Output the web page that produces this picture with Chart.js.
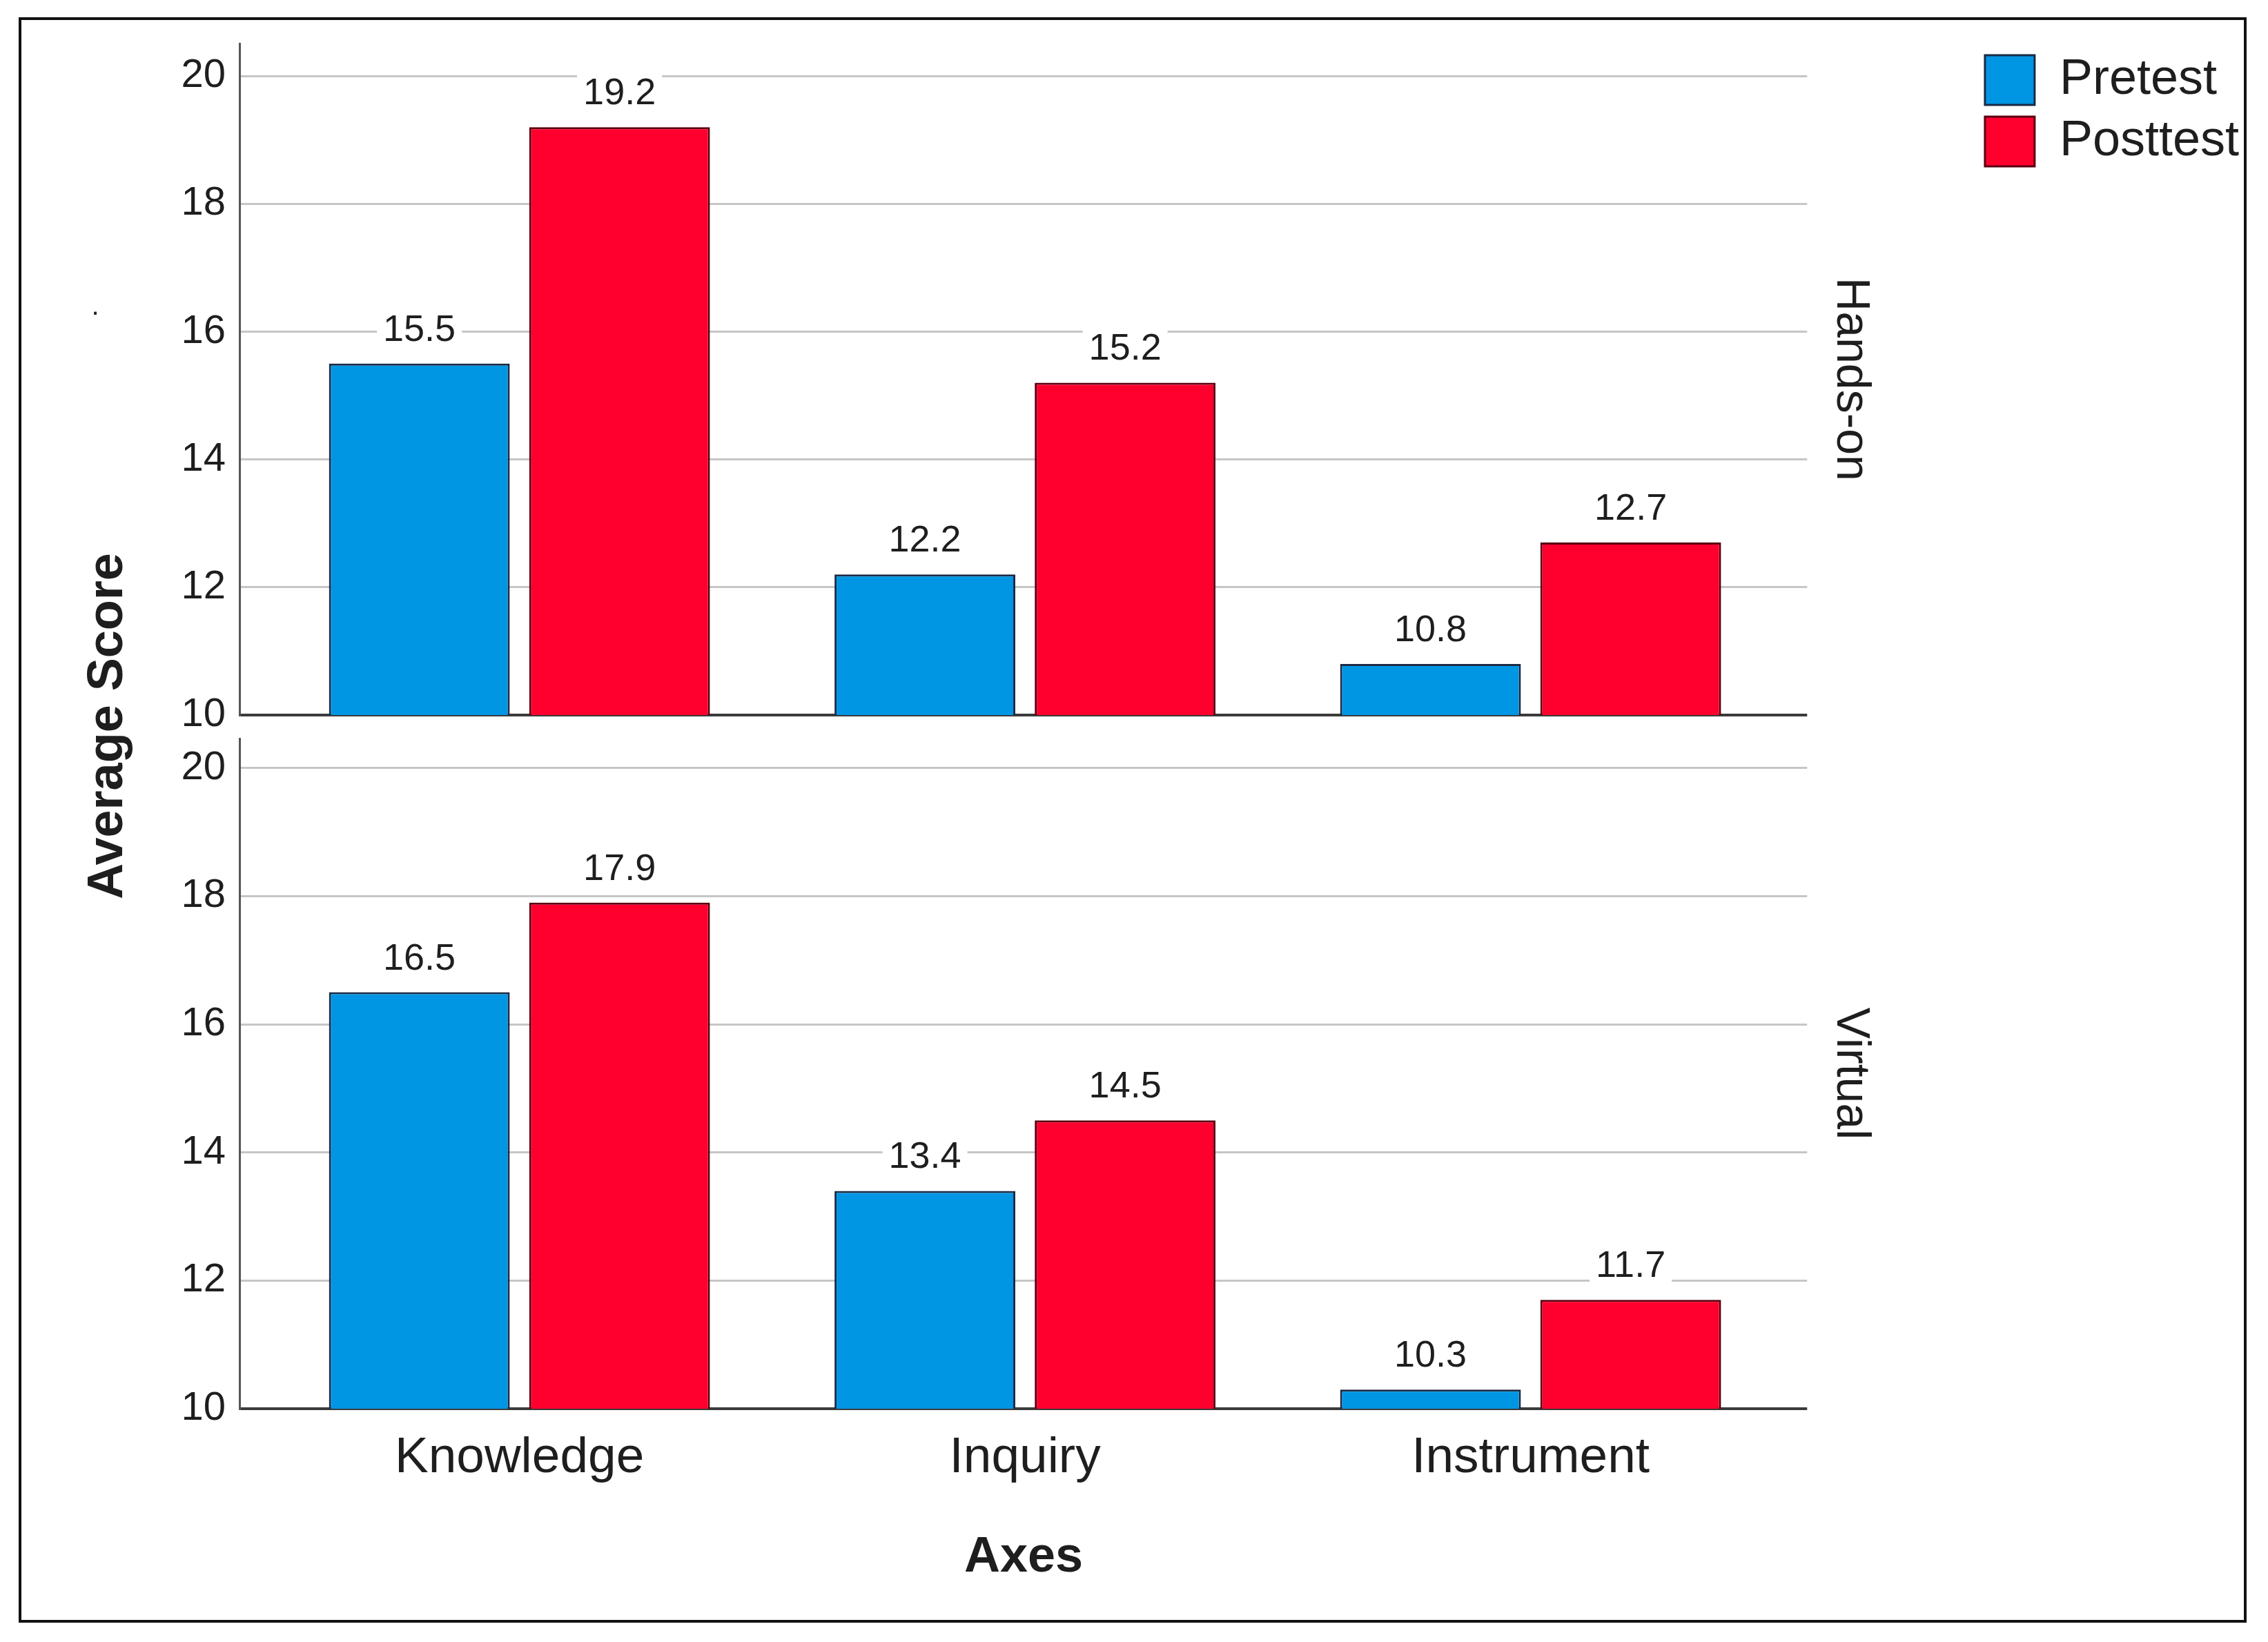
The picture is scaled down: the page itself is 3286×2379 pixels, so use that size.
<!DOCTYPE html>
<html>
<head>
<meta charset="utf-8">
<script src="https://cdn.jsdelivr.net/npm/chart.js@4/dist/chart.umd.min.js"></script>
<style>
  html, body { margin: 0; padding: 0; background: #ffffff; }
  #wrap { width: 3286px; height: 2379px; }
</style>
</head>
<body>
<div id="wrap"><canvas id="c" width="3286" height="2379"></canvas></div>
<script>
// ---- data ----
const categories = ['Knowledge', 'Inquiry', 'Instrument'];
const seriesNames = ['Pretest', 'Posttest'];
const panelNames = ['Hands-on', 'Virtual'];
const handsOnPretest = [15.5, 12.2, 10.8];
const handsOnPosttest = [19.2, 15.2, 12.7];
const virtualPretest = [16.5, 13.4, 10.3];
const virtualPosttest = [17.9, 14.5, 11.7];
const yTickValues = [10, 12, 14, 16, 18, 20];

// ---- styles ----
const FONT = '"Liberation Sans", Arial, Helvetica, sans-serif';
const BLUE = '#0096e4', BLUE_EDGE = '#1b2a44';
const RED = '#ff002e', RED_EDGE = '#5a0010';
const GRID = '#c6c6c6', BASE = '#3a3a3a', TEXT = '#1e1e1e';

const toPoints = (arr) => arr.map((v, i) => ({ x: i, y: v }));

function barSet(label, values, axis, stack, color, edge) {
  return {
    label, data: toPoints(values), yAxisID: axis, stack,
    backgroundColor: color, borderColor: edge, borderWidth: 3,
    borderSkipped: false,
    categoryPercentage: 0.792, barPercentage: 0.903
  };
}

const valueLabels = {
  id: 'valueLabels',
  afterDatasetsDraw(chart) {
    const ctx = chart.ctx;
    ctx.save();
    ctx.font = '54px ' + FONT;
    ctx.textAlign = 'center';
    ctx.textBaseline = 'middle';
    chart.data.datasets.forEach((ds, di) => {
      const meta = chart.getDatasetMeta(di);
      meta.data.forEach((bar, i) => {
        const txt = ds.data[i].y.toFixed(1);
        const w = ctx.measureText(txt).width + 18;
        const y = bar.y - 48;
        ctx.fillStyle = '#ffffff';
        ctx.fillRect(bar.x - w / 2, y - 30, w, 60);
        ctx.fillStyle = TEXT;
        ctx.fillText(txt, bar.x, y);
      });
    });
    ctx.restore();
  }
};

const frame = {
  id: 'frame',
  beforeDraw(chart) {
    const ctx = chart.ctx;
    ctx.save();
    ctx.fillStyle = '#ffffff';
    ctx.fillRect(0, 0, chart.width, chart.height);
    ctx.restore();
  },
  afterDraw(chart) {
    const ctx = chart.ctx;
    ctx.save();
    ctx.strokeStyle = '#111111';
    ctx.lineWidth = 4;
    ctx.strokeRect(29, 27, 3224, 2322);
    ctx.fillStyle = TEXT;
    ctx.font = '40px ' + FONT;
    ctx.textAlign = 'center';
    ctx.textBaseline = 'alphabetic';
    ctx.fillText('.', 138, 456);
    ctx.restore();
  }
};

const setYTicks = (axis) => { axis.ticks = yTickValues.map(v => ({ value: v })); };

const panelAxis = (min, max, weight) => ({
  type: 'linear', position: 'left', stack: 'panels', stackWeight: weight,
  min, max, afterBuildTicks: setYTicks,
  ticks: { color: TEXT, font: { family: FONT, size: 58 }, padding: 21 },
  grid: {
    drawTicks: false,
    color: (c) => (c.tick && c.tick.value === 10 ? BASE : GRID),
    lineWidth: (c) => (c.tick && c.tick.value === 10 ? 4 : 3)
  },
  border: { display: true, color: '#555555', width: 3 }
});

const hiddenAxis = (position, stack, weight, title) => ({
  type: 'linear', position, stack, stackWeight: weight,
  display: !!title,
  ticks: { display: false },
  grid: { display: false, drawTicks: false },
  border: { display: false },
  title: title ? {
    display: true, text: title, color: TEXT,
    font: { family: FONT, size: 68 },
    padding: { top: 137, bottom: 22 }
  } : { display: false }
});

new Chart(document.getElementById('c'), {
  type: 'bar',
  data: {
    datasets: [
      barSet(seriesNames[0], handsOnPretest, 'yTop', 'pre', BLUE, BLUE_EDGE),
      barSet(seriesNames[1], handsOnPosttest, 'yTop', 'post', RED, RED_EDGE),
      barSet(seriesNames[0], virtualPretest, 'yBot', 'pre', BLUE, BLUE_EDGE),
      barSet(seriesNames[1], virtualPosttest, 'yBot', 'post', RED, RED_EDGE)
    ]
  },
  options: {
    responsive: false,
    devicePixelRatio: 1,
    animation: false,
    events: [],
    layout: { padding: { top: 63, left: 30, right: 32, bottom: 30 } },
    plugins: {
      tooltip: { enabled: false },
      legend: {
        position: 'right',
        align: 'start',
        maxWidth: 460,
        labels: {
          filter: (item) => item.datasetIndex < 2,
          color: TEXT,
          font: { family: FONT, size: 72 },
          boxWidth: 72, boxHeight: 72, padding: 17
        }
      }
    },
    scales: {
      x: {
        type: 'linear', position: 'bottom', offset: false,
        min: -0.5525, max: 2.547,
        afterBuildTicks: (axis) => { axis.ticks = categories.map((_, i) => ({ value: i })); },
        ticks: {
          callback: (v) => categories[v] ?? '',
          color: TEXT, font: { family: FONT, size: 73 }, padding: 28
        },
        grid: { display: false, drawTicks: false },
        border: { display: false },
        title: {
          display: true, text: 'Axes', color: TEXT,
          font: { family: FONT, size: 72, weight: 'bold' },
          padding: { top: 29, bottom: 49 }
        }
      },
      yBot: panelAxis(10, 20.46, 970),
      yGap: { type: 'linear', position: 'left', stack: 'panels', stackWeight: 34, display: false },
      yTop: panelAxis(10, 20.51, 972),
      yTitle: {
        type: 'linear', position: 'left', weight: 1,
        ticks: { display: false }, grid: { display: false, drawTicks: false }, border: { display: false },
        title: {
          display: true, text: 'Average Score', color: TEXT,
          font: { family: FONT, size: 72, weight: 'bold' },
          padding: { top: 84, bottom: 41 }
        }
      },
      rTop: hiddenAxis('right', 'panelsR', 972, panelNames[0]),
      rGap: hiddenAxis('right', 'panelsR', 34, null),
      rBot: hiddenAxis('right', 'panelsR', 970, panelNames[1])
    }
  },
  plugins: [frame, valueLabels]
});
</script>
</body>
</html>
